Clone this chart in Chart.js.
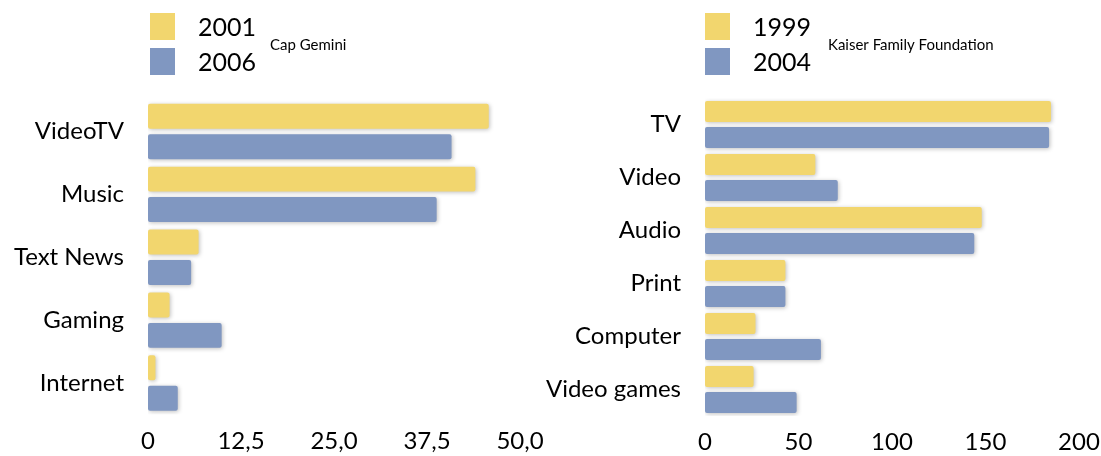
<!DOCTYPE html>
<html>
<head>
<meta charset="utf-8">
<script src="https://cdn.jsdelivr.net/npm/chart.js@4/dist/chart.umd.min.js"></script>
<style>
  body { margin: 0; background: #fff; }
  .wrap { position: absolute; top: 0; height: 456px; }
</style>
</head>
<body>
<div class="wrap" style="left:0;width:560px"><canvas id="capChart"></canvas></div>
<div class="wrap" style="left:540px;width:561px"><canvas id="kaiserChart"></canvas></div>
<script>
// Cap Gemini
const capLabels = ["VideoTV", "Music", "Text News", "Gaming", "Internet"];
const cap2001 = [45.8, 44, 6.8, 2.9, 1.0];
const cap2006 = [40.8, 38.8, 5.8, 9.9, 4.0];
const capSource = "Cap Gemini";

// Kaiser Family Foundation
const kffLabels = ["TV", "Video", "Audio", "Print", "Computer", "Video games"];
const kff1999 = [185, 59, 148, 43, 27, 26];
const kff2004 = [184, 71, 144, 43, 62, 49];
const kffSource = "Kaiser Family Foundation";

const YELLOW = "#F2D66E";
const BLUE = "#8097C1";
const FONT = "Lato, 'Open Sans', sans-serif";

// two big squares stacked, source name on the right
const legendPlugin = {
  id: "stackedLegend",
  afterDraw(chart, args, opts) {
    const ctx = chart.ctx;
    ctx.save();
    chart.data.datasets.forEach((ds, i) => {
      const y = 13 + i * 35;
      ctx.fillStyle = ds.backgroundColor;
      ctx.fillRect(opts.x, y, 25, 27);
      ctx.fillStyle = "#000";
      ctx.font = "25px " + FONT;
      ctx.textBaseline = "middle";
      ctx.fillText(ds.label, opts.x + 48, y + 15);
    });
    ctx.font = "15px " + FONT;
    ctx.fillText(opts.source, opts.x + opts.srcOffset, 45);
    ctx.restore();
  }
};

const shadowPlugin = {
  id: "barShadow",
  beforeDatasetsDraw(chart) {
    const ctx = chart.ctx;
    ctx.save();
    ctx.shadowColor = "rgba(0,0,0,0.25)";
    ctx.shadowBlur = 4;
    ctx.shadowOffsetX = 1;
    ctx.shadowOffsetY = 1;
  },
  afterDatasetsDraw(chart) {
    chart.ctx.restore();
  }
};

function makeChart(id, labels, a, b, names, xmax, step, fmt, yWidth, catPct, barPct, top, bottom, padRight, legendX, srcOffset, source) {
  return new Chart(document.getElementById(id), {
    type: "bar",
    data: {
      labels: labels,
      datasets: [
        { label: names[0], data: a, backgroundColor: YELLOW },
        { label: names[1], data: b, backgroundColor: BLUE },
      ],
    },
    options: {
      indexAxis: "y",
      responsive: true,
      maintainAspectRatio: false,
      animation: false,
      layout: { padding: { top: top, right: padRight, left: 0, bottom: 0 } },
      datasets: {
        bar: { categoryPercentage: catPct, barPercentage: barPct, borderRadius: 2, borderSkipped: false },
      },
      scales: {
        x: {
          min: 0,
          max: xmax,
          grid: { display: false, drawTicks: false },
          border: { display: false },
          ticks: {
            stepSize: step,
            padding: 12,
            color: "#000",
            font: { family: FONT, size: 24 },
            callback: fmt,
          },
          afterFit(scale) {
            scale.height = bottom;
            scale.paddingLeft = 0;
            scale.paddingRight = 0;
          },
        },
        y: {
          grid: { display: false, drawTicks: false },
          border: { display: false },
          ticks: { padding: 24, color: "#000", font: { family: FONT, size: 24 } },
          afterFit(scale) { scale.width = yWidth; },
        },
      },
      plugins: {
        legend: { display: false },
        tooltip: { enabled: false },
        stackedLegend: { x: legendX, srcOffset: srcOffset, source: source },
      },
    },
    plugins: [shadowPlugin, legendPlugin],
  });
}

makeChart("capChart", capLabels, cap2001, cap2006, ["2001", "2006"], 50, 12.5,
  v => v === 0 ? "0" : v.toFixed(1).replace(".", ","),
  148, 0.968, 0.82, 100, 41.5, 40, 150, 120, capSource);

makeChart("kaiserChart", kffLabels, kff1999, kff2004, ["1999", "2004"], 200, 50,
  v => String(v),
  165, 0.98, 0.81, 98, 40, 22, 165, 123, kffSource);
</script>
</body>
</html>
